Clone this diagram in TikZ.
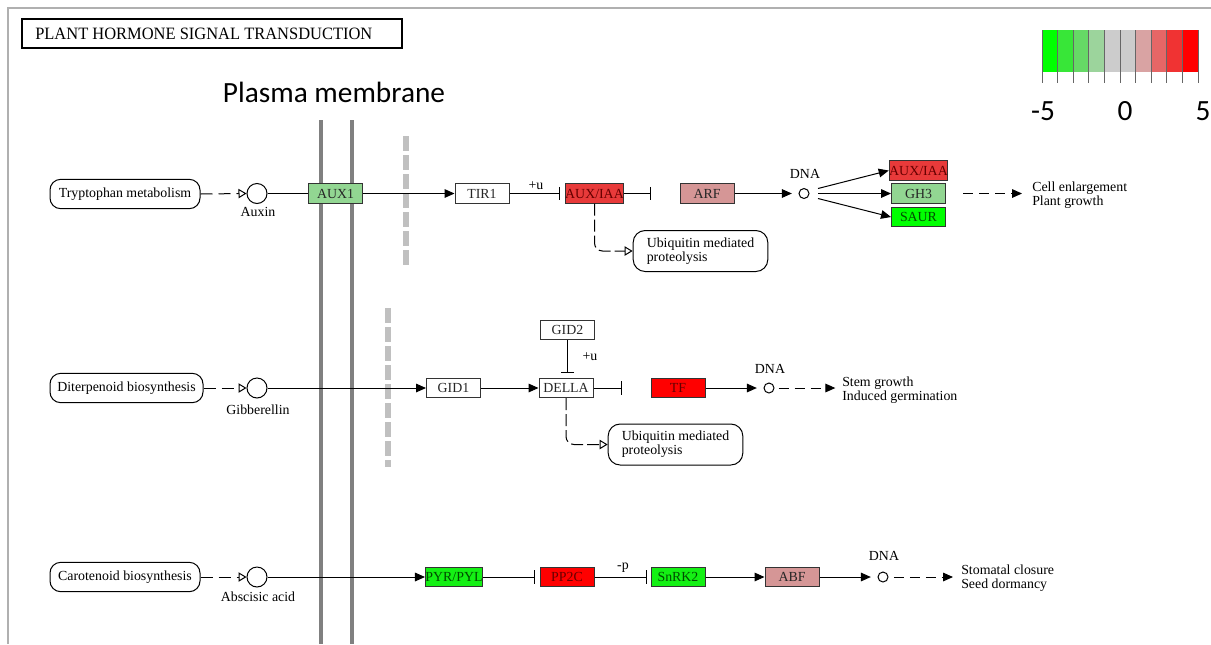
\documentclass[tikz,border=0pt]{standalone}
\usepackage{fontspec}
\setmainfont{Liberation Serif}
\newfontfamily\keggfam{Liberation Serif}
\newfontfamily\calibfam{Carlito}
\usetikzlibrary{arrows.meta,calc}
\newcommand{\keggtxt}{\keggfam\fontsize{10.4}{10.5}\selectfont}
\definecolor{framec}{RGB}{176,176,176}
\definecolor{memb}{RGB}{128,128,128}
\definecolor{membd}{RGB}{192,192,192}
\definecolor{ca}{RGB}{0,255,0}
\definecolor{cb}{RGB}{56,230,56}
\definecolor{cc}{RGB}{102,217,102}
\definecolor{cd}{RGB}{156,212,156}
\definecolor{ce}{RGB}{204,204,204}
\definecolor{cf}{RGB}{204,204,204}
\definecolor{cg}{RGB}{217,163,163}
\definecolor{ch}{RGB}{230,102,102}
\definecolor{ci}{RGB}{240,51,51}
\definecolor{cj}{RGB}{255,0,0}
\definecolor{gred}{RGB}{232,58,58}
\definecolor{gpink}{RGB}{213,150,150}
\definecolor{glgreen}{RGB}{146,214,146}
\definecolor{ggreen}{RGB}{20,240,20}
\definecolor{gbred}{RGB}{255,0,0}
\begin{document}
\begin{tikzpicture}[x=0.75pt,y=-0.75pt,
  lw/.style={line width=0.75pt},
  gene/.style={draw=black!80,line width=0.75pt,minimum width=40.5pt,minimum height=14.5pt,inner sep=0pt,font=\keggtxt,text=black!85},
  redgene/.style={gene,text=red!40!black},
  greengene/.style={gene,text=green!30!black},
  pathbox/.style={draw,line width=0.75pt,rounded corners=8pt,minimum width=112.5pt,minimum height=22pt,inner sep=0pt,font=\keggtxt},
  ubibox/.style={draw,line width=0.75pt,rounded corners=9pt,minimum width=101pt,minimum height=30.75pt,inner sep=0pt,font=\keggtxt,align=left},
  cpd/.style={circle,draw,line width=0.75pt,minimum size=15pt,inner sep=0pt},
  dnac/.style={circle,draw,line width=0.75pt,minimum size=7.5pt,inner sep=0pt},
  lbl/.style={font=\keggtxt,inner sep=0pt},
  act/.style={line width=0.75pt,-{Triangle[length=7.5pt,width=6.5pt]}},
  inh/.style={line width=0.75pt,-{Bar[width=10pt]}},
  feed/.style={line width=0.75pt,dash pattern=on 9pt off 4.5pt,-{Triangle[open,length=6pt,width=7pt]}},
  outdash/.style={line width=0.75pt,dash pattern=on 7.5pt off 4.5pt,-{Triangle[length=7.5pt,width=6.5pt]}},
  ubidash/.style={line width=0.75pt,dash pattern=on 9pt off 3pt,rounded corners=6pt,-{Triangle[open,length=6pt,width=7pt]}},
  membrane/.style={memb,line width=3.5pt},
  membdash/.style={membd,line width=5pt,dash pattern=on 11.5pt off 2.75pt},
  bigsans/.style={font=\calibfam\fontsize{22}{24}\selectfont,inner sep=0pt}
]
\useasboundingbox (0,0) rectangle (1211,644);
\fill[white] (0,0) rectangle (1211,644);
% frame
\draw[framec,line width=2pt] (8,644) -- (8,8) -- (1211,8);
% membranes
\draw[membrane] (321,120) -- (321,644);
\draw[membrane] (352,120) -- (352,644);
\draw[membdash] (406,136) -- (406,268);
\draw[membdash] (388,308) -- (388,467);
\node[bigsans,anchor=base] (pm) at (334,102) {Plasma membrane};
% title
\node[draw,line width=1.5pt,minimum width=285pt,minimum height=21.75pt,inner sep=0pt] (titlebox) at (212,33.5) {};
\node[anchor=west,inner sep=0pt,font=\keggfam\fontsize{13}{14}\selectfont] (titletext) at (35,34) {\scalebox{0.95}[1]{PLANT HORMONE SIGNAL TRANSDUCTION}};
% legend
\foreach \i/\c in {0/ca,1/cb,2/cc,3/cd,4/ce,5/cf,6/cg,7/ch,8/ci,9/cj}
  \fill[\c] ({1042+15.6*\i},30) rectangle ({1042+15.6*(\i+1)},72);
\foreach \i in {0,...,10}
  \draw[black!60,line width=0.75pt] ({1042+15.6*\i},30) -- ({1042+15.6*\i},83);
\node[bigsans,anchor=base] (lm5) at (1043,120) {-5};
\node[bigsans,anchor=base] (l0) at (1125,120) {0};
\node[bigsans,anchor=base] (l5) at (1203,120) {5};

% ===== Row 1 =====
\node[pathbox] (tryp) at (125,194) {Tryptophan metabolism};
\node[cpd] (auxin) at (257,193.5) {};
\node[lbl] (auxinl) at (258,212) {Auxin};
\node[gene,fill=glgreen] (aux1) at (335.5,193.5) {AUX1};
\node[gene] (tir1) at (482,193.5) {TIR1};
\node[redgene,fill=gred] (auxiaa) at (594.5,193.5) {AUX/IAA};
\node[gene,fill=gpink] (arf) at (707,193.5) {ARF};
\node[dnac] (dna1) at (804,193.5) {};
\node[lbl] (dna1l) at (805,174) {DNA};
\node[redgene,fill=gred] (auxiaa2) at (918.5,170.5) {AUX/IAA};
\node[gene,fill=glgreen] (gh3) at (918.5,193.5) {GH3};
\node[greengene,fill=ca] (saur) at (918.5,217) {SAUR};
\node[ubibox] (ubi1) at (700.5,251) {Ubiquitin mediated\\proteolysis};
\node[lbl,anchor=west,align=left] (out1) at (1032,195) {Cell enlargement\\Plant growth};
\node[lbl] (plusu1) at (536,186) {+u};
\coordinate (o1a) at (818,188.5);
\coordinate (o1b) at (818,193.5);
\coordinate (o1c) at (818,198.5);

\draw[feed] (tryp.east) -- (auxin.west);
\draw[lw] (auxin.east) -- (aux1.west);
\draw[act] (aux1.east) -- (tir1.west);
\draw[inh,shorten >=3.75pt] (tir1.east) -- (auxiaa.west);
\draw[inh,shorten >=21.75pt] (auxiaa.east) -- (arf.west);
\draw[act,shorten >=5pt] (arf.east) -- (dna1.west);
\draw[act] (o1a) -- (auxiaa2.west);
\draw[act] (o1b) -- (gh3.west);
\draw[act] (o1c) -- (saur.west);
\draw[outdash,shorten <=13pt,shorten >=7.5pt] (gh3.east) -- (gh3.east -| out1.west);
\draw[ubidash] (auxiaa.south) |- (ubi1.west);

% ===== Row 2 =====
\node[pathbox,minimum width=114.75pt] (diter) at (126.5,388) {Diterpenoid biosynthesis};
\node[cpd] (gib) at (257,388) {};
\node[lbl] (gibl) at (258,410) {Gibberellin};
\node[gene] (gid1) at (453.5,388) {GID1};
\node[gene] (della) at (566,388) {DELLA};
\node[gene] (gid2) at (567.5,330) {GID2};
\node[lbl] (plusu2) at (590,357) {+u};
\node[redgene,fill=gbred] (tf) at (678,388) {TF};
\node[dnac] (dna2) at (769,388) {};
\node[lbl] (dna2l) at (770,369) {DNA};
\node[ubibox] (ubi2) at (675.5,444.5) {Ubiquitin mediated\\proteolysis};
\node[lbl,anchor=west,align=left] (out2) at (842,390) {Stem growth\\Induced germination};

\draw[feed] (diter.east) -- (gib.west);
\draw[act] (gib.east) -- (gid1.west);
\draw[act] (gid1.east) -- (della.west);
\draw[inh,shorten >=4pt] (gid2.south) -- (gid2.south |- della.north);
\draw[inh,shorten >=21.75pt] (della.east) -- (tf.west);
\draw[act,shorten >=5pt] (tf.east) -- (dna2.west);
\draw[outdash,shorten <=3pt,shorten >=5pt] (dna2.east) -- (dna2.east -| out2.west);
\draw[ubidash] (della.south) |- (ubi2.west);

% ===== Row 3 =====
\node[pathbox] (carot) at (125,577) {Carotenoid biosynthesis};
\node[cpd] (aba) at (257,577) {};
\node[lbl] (abal) at (258,597) {Abscisic acid};
\node[greengene,fill=ggreen] (pyr) at (454,577) {PYR/PYL};
\node[redgene,fill=gbred] (pp2c) at (567,577) {PP2C};
\node[lbl] (minusp) at (623,568) {-p};
\node[greengene,fill=ggreen] (snrk2) at (678,577) {SnRK2};
\node[gene,fill=gpink] (abf) at (792,577) {ABF};
\node[dnac] (dna3) at (883,577) {};
\node[lbl] (dna3l) at (884,556) {DNA};
\node[lbl,anchor=west,align=left] (out3) at (961,578) {Stomatal closure\\Seed dormancy};

\draw[feed] (carot.east) -- (aba.west);
\draw[act] (aba.east) -- (pyr.west);
\draw[inh,shorten >=3.75pt] (pyr.east) -- (pp2c.west);
\draw[inh,shorten >=3pt] (pp2c.east) -- (snrk2.west);
\draw[act] (snrk2.east) -- (abf.west);
\draw[act,shorten >=5pt] (abf.east) -- (dna3.west);
\draw[outdash,shorten <=4pt,shorten >=6pt] (dna3.east) -- (dna3.east -| out3.west);
\end{tikzpicture}
\end{document}
